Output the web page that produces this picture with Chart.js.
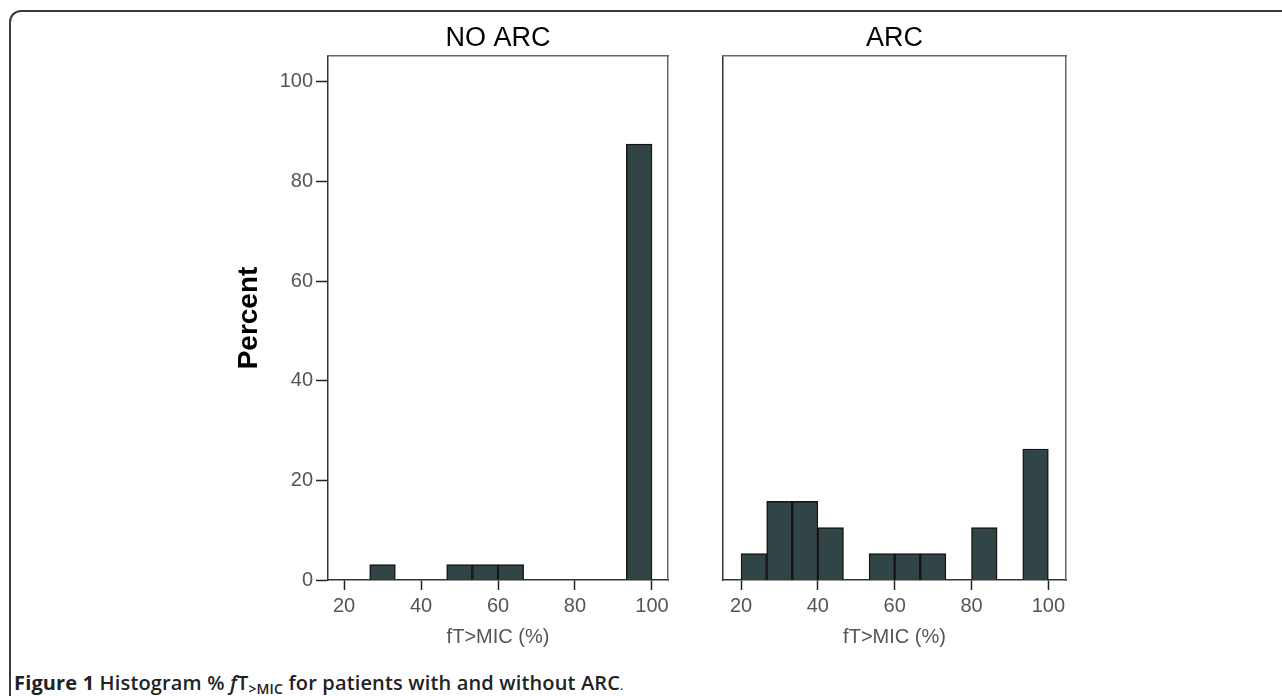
<!DOCTYPE html>
<html><head><meta charset="utf-8">
<script src="https://cdn.jsdelivr.net/npm/chart.js@4"></script>
<style>
body{margin:0;background:#fff;width:1282px;height:696px;overflow:hidden;position:relative;}
#frame{position:absolute;left:9px;top:10px;width:1400px;height:800px;border-top:2px solid #3a3a3a;border-left:2px solid #3a3a3a;border-top-left-radius:12px;box-sizing:border-box;}
canvas{position:absolute;}
#caption{position:absolute;left:14px;top:671px;font-family:"Open Sans",sans-serif;font-size:20px;font-weight:700;color:#222;white-space:nowrap;line-height:24px;letter-spacing:0.15px;}
#caption sub{font-size:14px;vertical-align:-4px;line-height:0;}
</style></head><body>
<div id="frame"></div>
<canvas id="c1" width="530" height="640" style="left:150px;top:15px"></canvas>
<canvas id="c2" width="400" height="640" style="left:690px;top:15px"></canvas>
<div id="caption">Figure 1 <span style="font-weight:600">Histogram % <i>f</i>T<sub>&gt;MIC</sub> for patients with and without ARC</span><span style="font-weight:400;font-size:13px">.</span></div>
<script>
// ---- data ----
const panelTitles = ['NO ARC', 'ARC'];
const xAxisTitle = 'fT>MIC (%)';
const yAxisTitle = 'Percent';
const xTickValues = [20, 40, 60, 80, 100];
const yTickValues = [0, 20, 40, 60, 80, 100];
// histogram bins (centres of 6.67-wide bins) and percentages
const noArcBinCenters = [30, 50, 56.67, 63.33, 96.67];
const noArcPercent = [3.1, 3.1, 3.1, 3.1, 87.5];
const arcBinCenters = [23.33, 30, 36.67, 43.33, 56.67, 63.33, 70, 83.33, 96.67];
const arcPercent = [5.3, 15.8, 15.8, 10.5, 5.3, 5.3, 5.3, 10.5, 26.3];

const FONT = '"Liberation Sans", Arial, sans-serif';
const BAR_FILL = '#314547';
const BAR_EDGE = '#151515';

function panel(id, title, centers, values, o) {
  return new Chart(document.getElementById(id), {
    type: 'bar',
    data: { datasets: [{
      data: centers.map((c, i) => ({ x: c, y: values[i] })),
      backgroundColor: BAR_FILL, borderColor: BAR_EDGE, borderWidth: 1.5,
      barPercentage: 1, categoryPercentage: 1, xAxisID: 'x', yAxisID: 'y'
    }]},
    options: {
      responsive: false, animation: false, devicePixelRatio: 1,
      layout: { padding: { left: 0, right: o.padRight, top: 0, bottom: 0 } },
      plugins: {
        legend: { display: false }, tooltip: { enabled: false },
        title: { display: true, text: title, fullSize: false, color: '#000',
          font: { family: FONT, size: 27, weight: 'normal' }, padding: { top: 7, bottom: 1.6 } }
      },
      scales: {
        x: {
          type: 'linear', position: 'bottom', min: o.xMin, max: o.xMax, offset: false,
          afterBuildTicks: s => { s.ticks = xTickValues.map(v => ({ value: v })); },
          afterFit: s => { s.height = 75; },
          grid: { display: true, drawOnChartArea: false, drawTicks: true, tickLength: 10, tickColor: '#222', tickWidth: 1.5, offset: false },
          border: { display: true, color: '#333', width: 1.5 },
          ticks: { color: '#555', font: { family: FONT, size: 20 }, padding: 4, maxRotation: 0, autoSkip: false },
          title: { display: true, text: xAxisTitle, color: '#555', font: { family: FONT, size: 20 }, padding: { top: 0, bottom: 6 } }
        },
        y: {
          type: 'linear', position: 'left', min: 0, max: 105.2,
          afterBuildTicks: s => { s.ticks = yTickValues.map(v => ({ value: v })); },
          afterFit: s => { s.width = o.yWidth; },
          grid: { display: o.yTicks, drawOnChartArea: false, drawTicks: o.yTicks, tickLength: 12, tickColor: '#222', tickWidth: 1.5 },
          border: { display: true, color: '#333', width: 1.5 },
          ticks: { display: o.yTicks, color: '#555', font: { family: FONT, size: 20 }, padding: 3 },
          title: { display: o.yTicks, text: yAxisTitle, color: '#000', font: { family: FONT, size: 28, weight: 'bold' }, padding: { top: 82, bottom: 0 } }
        },
        xTop: {
          type: 'linear', position: 'top', display: true,
          grid: { display: false, drawTicks: false }, ticks: { display: false },
          border: { display: true, color: '#666', width: 1.5 }
        },
        yRight: {
          type: 'linear', position: 'right', display: true,
          grid: { display: false, drawTicks: false }, ticks: { display: false },
          border: { display: true, color: '#666', width: 1.5 }
        }
      }
    }
  });
}

panel('c1', panelTitles[0], noArcBinCenters, noArcPercent, { padRight: 12, xMin: 15.84, xMax: 104.16, yWidth: 178, yTicks: true });
panel('c2', panelTitles[1], arcBinCenters, arcPercent, { padRight: 24, xMin: 15.3, xMax: 104.6, yWidth: 33, yTicks: false });
</script>
</body></html>
